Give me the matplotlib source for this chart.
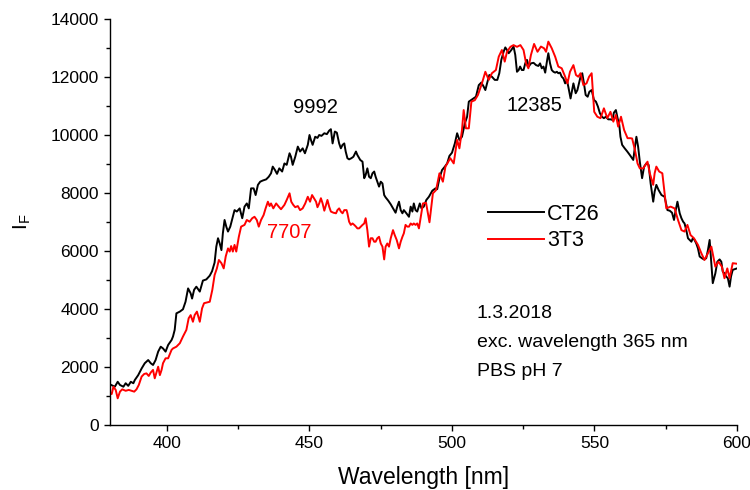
import matplotlib
matplotlib.use('Agg')
import matplotlib.pyplot as plt
import numpy as np
from matplotlib.ticker import MultipleLocator

plt.rcParams['font.family'] = ['Liberation Sans', 'DejaVu Sans']

# CT26 emission spectrum
ct26_wl = [380.0, 381.7, 382.7, 383.5, 384.7, 385.5, 386.4, 387.3, 388.2, 388.7,
           389.9, 391.1, 392.2, 393.4, 394.3, 395.1, 396.0, 396.9, 397.8, 398.6,
           399.5, 400.4, 401.6, 402.1, 402.7, 403.3, 404.5, 405.6, 406.5, 407.4,
           408.3, 408.8, 409.5, 410.3, 411.5, 412.6, 413.8, 415.0, 415.8, 416.7,
           417.3, 417.9, 418.5, 419.1, 419.6, 420.2, 420.8, 421.4, 422.2, 423.1,
           423.7, 424.5, 425.5, 426.4, 427.2, 428.0, 428.7, 429.5, 430.4, 431.1,
           431.9, 432.7, 433.6, 434.8, 435.7, 436.5, 437.1, 437.9, 438.6, 439.4,
           440.4, 441.2, 442.0, 443.0, 443.5, 444.1, 445.0, 445.9, 446.7, 447.6,
           448.4, 449.4, 450.0, 450.5, 451.1, 452.0, 452.8, 453.4, 454.2, 455.2,
           456.1, 456.9, 457.5, 458.1, 458.9, 459.6, 460.4, 461.0, 461.6, 462.2,
           462.7, 463.3, 463.9, 464.7, 465.4, 466.3, 466.8, 467.8, 468.6, 469.2,
           469.7, 470.3, 470.9, 471.5, 472.1, 472.7, 473.2, 473.8, 474.4, 475.0,
           475.6, 476.2, 476.7, 477.6, 478.5, 479.3, 480.2, 480.8, 481.4, 482.0,
           482.6, 483.1, 484.0, 484.9, 485.5, 486.1, 486.6, 487.2, 487.8, 488.7,
           489.3, 490.1, 491.0, 491.9, 493.1, 494.2, 494.8, 495.6, 496.5, 497.5,
           498.3, 499.1, 500.0, 501.0, 501.8, 502.6, 503.5, 504.5, 505.3, 505.9,
           506.8, 507.6, 508.4, 509.4, 510.3, 511.1, 511.7, 512.3, 513.1, 514.0,
           515.0, 515.9, 516.6, 517.3, 518.1, 518.7, 519.3, 519.9, 520.8, 521.6,
           522.2, 522.8, 523.4, 523.9, 524.5, 525.1, 525.7, 526.3, 526.9, 527.7,
           528.6, 529.5, 530.3, 530.9, 531.5, 532.1, 532.7, 533.3, 533.8, 534.4,
           535.0, 535.6, 536.2, 536.8, 537.3, 537.9, 538.5, 539.1, 539.7, 540.3,
           540.8, 541.6, 542.6, 543.4, 544.0, 544.7, 545.1, 545.7, 546.3, 546.9,
           547.6, 548.2, 549.0, 549.8, 550.5, 551.2, 551.9, 552.6, 553.3, 554.0,
           554.8, 555.6, 556.3, 556.8, 557.5, 558.1, 558.7, 559.1, 559.7, 560.6,
           561.5, 562.4, 563.6, 564.2, 564.7, 565.3, 565.9, 566.7, 567.4, 568.2,
           569.0, 569.7, 570.6, 571.1, 571.7, 572.5, 573.5, 574.6, 575.6, 576.4,
           577.2, 577.9, 578.5, 579.1, 579.9, 580.5, 581.1, 581.6, 582.2, 582.8,
           583.4, 584.0, 584.5, 585.1, 585.7, 586.3, 586.9, 587.7, 588.4, 589.2,
           589.8, 590.4, 591.0, 591.5, 592.4, 593.1, 593.9, 594.5, 595.0, 595.6,
           596.2, 596.8, 597.4, 597.9, 598.5, 600.0]
ct26_if = [1400, 1320, 1490, 1380, 1320, 1440, 1350, 1490, 1440, 1550,
           1720, 1950, 2130, 2240, 2130, 2070, 2240, 2530, 2700, 2640,
           2530, 2760, 2930, 3050, 3280, 3850, 3910, 3990, 4250, 4710,
           4540, 4360, 4660, 4770, 4600, 4980, 5020, 5150, 5300, 5600,
           6150, 6440, 6260, 6030, 6610, 7070, 6840, 6670, 6840, 7180,
           7410, 7360, 7470, 7130, 7530, 7640, 7470, 8160, 8160, 7930,
           8280, 8390, 8430, 8470, 8560, 8680, 8910, 8790, 8660, 8850,
           8740, 9020, 8970, 9370, 9250, 8970, 9250, 9600, 9430, 9540,
           9370, 9660, 10000, 9830, 9660, 9940, 9900, 10000, 9970, 10060,
           10030, 10150, 10200, 9710, 10120, 10080, 9710, 9540, 9660, 9710,
           9430, 9200, 9160, 9200, 9250, 9430, 9310, 9140, 9080, 8510,
           8620, 8850, 8560, 8510, 8680, 8740, 8560, 8390, 8220, 8390,
           8330, 7930, 7850, 7740, 7610, 7470, 7320, 7530, 7700, 7410,
           7300, 7410, 7300, 7180, 7530, 7360, 7640, 7410, 7360, 7640,
           7470, 7530, 7760, 7870, 8080, 8160, 8130, 8510, 8790, 8910,
           9020, 9280, 9390, 9710, 10060, 9830, 9940, 10400, 10630, 11150,
           11210, 11260, 11320, 11720, 11810, 11670, 11550, 11780, 12070, 12010,
           11900, 11900, 12130, 12590, 12870, 13020, 12930, 12820, 12930, 13050,
           12760, 12180, 12240, 12360, 12240, 12240, 12470, 12590, 12360, 12470,
           12490, 12410, 12380, 12470, 12300, 12360, 12150, 12530, 12820, 12470,
           12240, 12180, 12150, 12180, 12130, 12150, 12010, 11950, 11780, 11900,
           11670, 11260, 11780, 11440, 11550, 11840, 12010, 12130, 11780, 11380,
           11320, 11490, 11550, 11210, 11150, 10980, 10750, 10630, 10580, 10630,
           10540, 10540, 10520, 10770, 10860, 10580, 10350, 9940, 9660, 9540,
           9430, 9310, 9140, 9600, 9940, 9600, 9080, 8510, 8910, 9020,
           8970, 8330, 7700, 8050, 8280, 8100, 7930, 7870, 7410, 7390,
           7320, 7070, 7410, 7700, 7300, 7130, 7010, 6950, 6720, 6440,
           6380, 6320, 6440, 6380, 6260, 6090, 5810, 5750, 5710, 5750,
           6030, 6380, 5580, 4890, 5230, 5630, 5710, 5630, 5290, 5230,
           5120, 5060, 4770, 5120, 5350, 5400]

# 3T3 emission spectrum
t3_wl = [380.0, 380.6, 381.2, 382.0, 382.7, 383.5, 384.3, 385.5, 386.6, 387.6,
         388.5, 389.3, 390.1, 391.1, 392.0, 392.8, 393.6, 394.3, 395.1, 395.7,
         396.3, 396.9, 397.5, 398.1, 398.6, 399.5, 400.4, 401.6, 402.1, 403.3,
         404.5, 405.6, 406.8, 407.6, 408.3, 409.1, 409.7, 410.5, 411.5, 412.3,
         413.0, 413.8, 415.0, 415.9, 416.7, 417.5, 418.2, 419.1, 419.9, 420.6,
         421.4, 422.0, 422.5, 423.1, 423.7, 424.3, 425.2, 426.0, 427.2, 428.0,
         429.0, 429.9, 430.7, 431.5, 432.2, 433.0, 433.9, 434.6, 435.4, 436.0,
         436.5, 437.3, 438.3, 439.2, 440.0, 441.2, 442.0, 443.0, 443.6, 444.3,
         445.0, 445.9, 446.7, 447.6, 448.5, 449.4, 450.2, 450.9, 451.7, 452.3,
         452.8, 453.4, 454.0, 454.6, 455.2, 455.8, 456.3, 456.9, 457.5, 458.4,
         459.3, 459.8, 460.4, 461.0, 461.6, 462.2, 463.0, 463.3, 463.9, 464.5,
         465.1, 465.7, 466.3, 466.8, 467.4, 468.0, 468.6, 469.2, 469.7, 470.3,
         470.9, 471.5, 472.1, 472.7, 473.2, 473.8, 474.4, 475.0, 475.6, 476.2,
         476.7, 477.3, 477.9, 478.5, 479.3, 479.9, 480.6, 481.4, 482.0, 482.6,
         483.1, 483.7, 484.3, 484.9, 485.5, 486.1, 486.6, 487.2, 487.8, 488.4,
         489.8, 490.9, 492.1, 493.3, 494.4, 495.6, 496.8, 497.7, 499.4, 500.6,
         501.8, 502.6, 503.5, 504.1, 504.9, 505.9, 506.8, 508.0, 509.1, 510.5,
         511.7, 512.9, 514.0, 515.4, 516.4, 517.5, 518.5, 519.3, 520.5, 521.6,
         522.8, 524.0, 525.1, 526.0, 526.8, 527.7, 528.8, 530.0, 531.2, 532.3,
         533.0, 533.8, 535.0, 536.2, 537.3, 538.5, 539.7, 540.5, 541.4, 542.6,
         543.5, 544.3, 545.1, 546.1, 547.2, 548.1, 549.0, 549.9, 551.0, 552.1,
         553.3, 554.5, 555.6, 556.6, 557.5, 558.3, 559.3, 560.4, 561.6, 562.6,
         563.2, 564.2, 565.1, 565.9, 567.1, 567.9, 568.6, 569.4, 570.6, 571.1,
         571.7, 572.7, 573.8, 574.6, 575.2, 576.7, 578.1, 579.3, 580.5, 581.6,
         582.6, 583.7, 584.9, 586.3, 587.5, 588.6, 589.8, 591.0, 592.4, 593.5,
         594.7, 595.6, 596.6, 597.4, 598.5, 600.0]
t3_if = [1070, 1070, 1320, 1210, 920, 1150, 1230, 1180, 1210, 1180,
         1150, 1230, 1380, 1670, 1760, 1780, 1690, 1810, 1900, 1610,
         1810, 2010, 1720, 1900, 2130, 2300, 2300, 2590, 2640, 2700,
         2820, 3050, 3280, 3680, 3790, 3560, 3790, 3910, 3560, 4020,
         4200, 4220, 4250, 4660, 5170, 5400, 5690, 5580, 5400, 5810,
         6090, 5980, 6170, 5980, 6210, 5980, 6490, 6840, 6900, 7070,
         7010, 7130, 7180, 7070, 6840, 7070, 7240, 7470, 7700, 7550,
         7640, 7470, 7640, 7530, 7440, 7590, 7760, 7990, 7700, 7590,
         7510, 7550, 7410, 7470, 7640, 7870, 7700, 7930, 7800, 7700,
         7510, 7640, 7820, 7640, 7390, 7590, 7760, 7530, 7360, 7320,
         7300, 7410, 7470, 7360, 7300, 7410, 7410, 7300, 7010, 6900,
         6950, 6900, 6840, 6780, 6780, 6840, 6900, 6950, 7130, 6720,
         6150, 6440, 6440, 6320, 6320, 6440, 6490, 6260, 6150, 5710,
         6150, 6260, 6150, 6440, 6720, 6550, 6380, 6090, 6320, 6490,
         6610, 6900, 6840, 6840, 6950, 6900, 6950, 6900, 6950, 6780,
         7640, 7660, 6990, 7990, 8100, 8680, 8390, 8910, 9200, 9020,
         9830, 9540, 10170, 10860, 10230, 10230, 11150, 11200, 11380, 11780,
         12180, 11900, 12130, 12240, 12700, 12930, 12530, 12870, 13040, 13100,
         13040, 13100, 12930, 12470, 12300, 12760, 13140, 12870, 13050, 12990,
         12870, 13220, 12990, 12700, 12360, 12300, 12010, 11780, 12180, 12410,
         12070, 12010, 12130, 11720, 11780, 12010, 12130, 10800, 10630, 10580,
         10920, 10580, 10800, 10460, 10690, 10290, 10630, 10170, 9890, 9890,
         9880, 9480, 9020, 8850, 8850, 8970, 9080, 8680, 8280, 8680,
         8910, 8740, 8680, 7990, 7470, 7530, 7470, 7070, 6720, 6670,
         6900, 6550, 6440, 6210, 5920, 5690, 5920, 6150, 5460, 5630,
         5460, 5060, 5400, 5060, 5580, 5560]

# peak labels: (text, wavelength, intensity, colour)
peak_labels = [('9992', 452.0, 10960, 'black'),
               ('12385', 529.0, 11020, 'black'),
               ('7707', 443.0, 6630, 'red')]
info_lines = ['1.3.2018', 'exc. wavelength 365 nm', 'PBS pH 7']

fig = plt.figure(figsize=(7.5, 4.9), dpi=100)
ax = fig.add_axes([110/750, 65/490, 627/750, 406/490])

ax.plot(ct26_wl, ct26_if, color='black', lw=1.4, label='CT26')
ax.plot(t3_wl, t3_if, color='red', lw=1.4, label='3T3')

ax.set_xlim(380, 600)
ax.set_ylim(0, 14000)
ax.xaxis.set_major_locator(MultipleLocator(50))
ax.xaxis.set_minor_locator(MultipleLocator(25))
ax.yaxis.set_major_locator(MultipleLocator(2000))
ax.yaxis.set_minor_locator(MultipleLocator(1000))
ax.tick_params(which='both', direction='out', width=1.0, labelsize=12.5)
ax.tick_params(which='major', length=4.5)
ax.tick_params(which='minor', length=3)
for s in ['top', 'right']:
    ax.spines[s].set_visible(False)
for s in ['left', 'bottom']:
    ax.spines[s].set_linewidth(1.0)

ax.set_xlabel('Wavelength [nm]', fontsize=16.5, labelpad=11)
ax.set_ylabel(r'I$_\mathregular{F}$', fontsize=15, labelpad=13)

for txt, x, y, c in peak_labels:
    ax.text(x, y, txt, color=c, fontsize=14.5, ha='center', va='center')

for i, line in enumerate(info_lines):
    ax.text(0.585, 0.274 - i*0.0705, line, transform=ax.transAxes,
            fontsize=14, ha='left', va='center')

ax.legend(loc='upper left', bbox_to_anchor=(0.603, 0.545), frameon=False,
          fontsize=15.5, handlelength=2.6, handletextpad=0.15,
          labelspacing=0.25, borderaxespad=0, borderpad=0)

fig.savefig('out.png', dpi=100)
